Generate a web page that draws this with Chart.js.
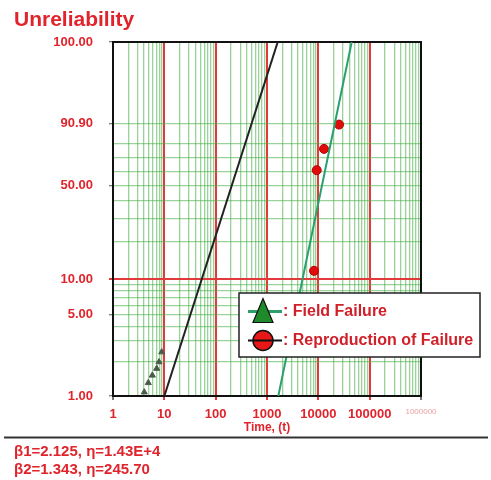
<!DOCTYPE html>
<html><head><meta charset="utf-8">
<script src="https://cdn.jsdelivr.net/npm/chart.js@4.4.1/dist/chart.umd.min.js"></script>
<style>html,body{margin:0;padding:0;background:#fff;}canvas{display:block;}</style>
</head><body>
<canvas id="c" width="491" height="480"></canvas>
<script>
// ---- text ----
const chartTitle = 'Unreliability';
const xAxisTitle = 'Time, (t)';
const paramLines = ['\u03b21=2.125, \u03b7=1.43E+4', '\u03b22=1.343, \u03b7=245.70'];
const legendLabels = [': Field Failure', ': Reproduction of Failure'];

// ---- axes ----
const xMin = 1, xMax = 1000000;
const xGridValues = [1,2,3,4,5,6,7,8,9,
  10,20,30,40,50,60,70,80,90,
  100,200,300,400,500,600,700,800,900,
  1000,2000,3000,4000,5000,6000,7000,8000,9000,
  10000,20000,30000,40000,50000,60000,70000,80000,90000,
  100000,200000,300000,400000,500000,600000,700000,800000,900000,
  1000000];
const xLabelValues = [1,10,100,1000,10000,100000,1000000];
const xTickLabels = ['1','10','100','1000','10000','100000','1000000'];

const yMin = 1, yMax = 99.99958;
const yGridValues = [1,2,3,4,5,6,7,8,9,10,20,30,40,50,60,70,80,90.9,99.99958];
const yLabelValues = [1,5,10,50,90.9,99.99958];
const yTickLabels = ['1.00','5.00','10.00','50.00','90.90','100.00'];

// ---- data (time, unreliability %) ----
const fieldTime  = [4.07, 4.87, 5.83, 7.10, 7.87, 8.89];
const fieldUnrel = [1.08, 1.30, 1.51, 1.73, 1.97, 2.40];
const reproTime  = [8240, 9300, 12900, 25300];
const reproUnrel = [11.7, 61.0, 76.4, 90.5];
const fit1Time  = [1660, 44700];      // beta1 = 2.125, eta = 1.43E+4 (green)
const fit1Unrel = [1, 99.99958];
const fit2Time  = [10, 1618];         // beta2 = 1.343, eta = 245.70 (black)
const fit2Unrel = [1, 99.99958];

// ---- colours ----
const RED = '#e0242c';
const GRID_GREEN = 'rgba(70,175,70,0.55)';
const GRID_RED = '#e23a3a';
const FONT = "'Liberation Sans', Arial, sans-serif";

// Weibull probability scale: linear in ln(-ln(1-F))
const wt = p => Math.log(-Math.log(1 - p / 100));
class WeibullScale extends Chart.Scale {
  static id = 'weibull';
  static defaults = {};
  determineDataLimits() { this.min = this.options.min; this.max = this.options.max; }
  buildTicks() { return yGridValues.map(v => ({ value: v })); }
  configure() { super.configure(); this._tMin = wt(this.min); this._tMax = wt(this.max); }
  getLabelForValue(v) { return v.toFixed(2); }
  getPixelForValue(v) { return this.getPixelForDecimal((wt(v) - this._tMin) / (this._tMax - this._tMin)); }
  getValueForPixel(px) {
    const t = this._tMin + this.getDecimalForPixel(px) * (this._tMax - this._tMin);
    return 100 * (1 - Math.exp(-Math.exp(t)));
  }
}
Chart.register(WeibullScale);

const pts = (xs, ys) => xs.map((x, i) => ({ x: x, y: ys[i] }));

const framePlugin = {
  id: 'frame',
  beforeDatasetsDraw(chart) {
    const { ctx, chartArea: a } = chart;
    ctx.save();
    ctx.strokeStyle = '#111'; ctx.lineWidth = 2;
    ctx.strokeRect(a.left, a.top, a.right - a.left, a.bottom - a.top);
    ctx.restore();
  }
};

const legendPlugin = {
  id: 'boxLegend',
  afterDraw(chart) {
    const { ctx, chartArea: a } = chart;
    ctx.save();
    // separator line above parameter text
    ctx.strokeStyle = '#333'; ctx.lineWidth = 2;
    ctx.beginPath(); ctx.moveTo(4, a.bottom + 41.5); ctx.lineTo(488, a.bottom + 41.5); ctx.stroke();

    const bx = a.left + 126, by = a.top + 251, bw = 241, bh = 64;
    ctx.fillStyle = '#fff'; ctx.fillRect(bx, by, bw, bh);
    ctx.strokeStyle = '#222'; ctx.lineWidth = 1.5; ctx.strokeRect(bx, by, bw, bh);
    const mx = bx + 24;
    // entry 1
    const y1 = by + 18.5;
    ctx.strokeStyle = '#2e9e6e'; ctx.lineWidth = 3;
    ctx.beginPath(); ctx.moveTo(bx + 9, y1); ctx.lineTo(bx + 43, y1); ctx.stroke();
    ctx.beginPath(); ctx.moveTo(mx, y1 - 13); ctx.lineTo(mx - 10, y1 + 11); ctx.lineTo(mx + 10, y1 + 11); ctx.closePath();
    ctx.fillStyle = '#1f8a2a'; ctx.fill(); ctx.strokeStyle = '#111'; ctx.lineWidth = 1.2; ctx.stroke();
    // entry 2
    const y2 = by + 47.5;
    ctx.beginPath(); ctx.arc(mx, y2, 10, 0, Math.PI * 2);
    ctx.fillStyle = '#e81818'; ctx.fill(); ctx.strokeStyle = '#111'; ctx.lineWidth = 1.5; ctx.stroke();
    ctx.strokeStyle = '#111'; ctx.lineWidth = 2;
    ctx.beginPath(); ctx.moveTo(bx + 9, y2); ctx.lineTo(bx + 43, y2); ctx.stroke();
    ctx.fillStyle = '#d0202a'; ctx.font = 'bold 16px ' + FONT; ctx.textBaseline = 'middle'; ctx.textAlign = 'left';
    ctx.fillText(legendLabels[0], bx + 44, y1);
    ctx.fillText(legendLabels[1], bx + 44, y2);
    ctx.restore();
  }
};

new Chart(document.getElementById('c'), {
  type: 'scatter',
  data: {
    datasets: [
      { label: 'beta2 fit', data: pts(fit2Time, fit2Unrel), showLine: true, borderColor: '#222', borderWidth: 2, pointRadius: 0 },
      { label: 'beta1 fit', data: pts(fit1Time, fit1Unrel), showLine: true, borderColor: '#2aa070', borderWidth: 2, pointRadius: 0 },
      { label: 'Field Failure', data: pts(fieldTime, fieldUnrel), pointStyle: 'triangle', pointRadius: 3.5,
        backgroundColor: '#4b5a4b', borderColor: '#4b5a4b', borderWidth: 1 },
      { label: 'Reproduction of Failure', data: pts(reproTime, reproUnrel), pointStyle: 'circle', pointRadius: 4.5,
        backgroundColor: '#e00c0c', borderColor: '#b00000', borderWidth: 1 }
    ]
  },
  options: {
    responsive: false, animation: false, devicePixelRatio: 1,
    layout: { padding: { left: 14, right: 70, top: 0, bottom: 0 } },
    plugins: {
      legend: { display: false },
      tooltip: { enabled: false },
      title: { display: true, text: chartTitle, align: 'start', color: RED,
        font: { family: FONT, size: 21, weight: 'bold', lineHeight: 1.143 }, padding: { top: 8, bottom: 10 } },
      subtitle: { display: true, text: paramLines, position: 'bottom', align: 'start', color: RED,
        font: { family: FONT, size: 15, weight: 'bold', lineHeight: 1.1667 }, padding: { top: 6, bottom: 1.75 } }
    },
    scales: {
      x: {
        type: 'logarithmic', min: xMin, max: xMax,
        afterBuildTicks: s => { s.ticks = xGridValues.map(v => ({ value: v })); },
        afterFit: s => { s.height = 41.25; },
        border: { display: false },
        grid: {
          tickLength: 4,
          color: c => { const v = c.tick && c.tick.value; if (v === xMin || v === xMax) return 'rgba(0,0,0,0)'; return xLabelValues.includes(v) ? GRID_RED : GRID_GREEN; },
          lineWidth: c => (c.tick && xLabelValues.includes(c.tick.value)) ? 2 : 1.3,
          tickColor: c => { const v = c.tick && c.tick.value; if (!xLabelValues.includes(v)) return 'rgba(0,0,0,0)'; return (v === xMin || v === xMax) ? '#777' : GRID_RED; }
        },
        ticks: {
          autoSkip: false, maxRotation: 0, padding: 7,
          callback: v => { const i = xLabelValues.indexOf(v); return i >= 0 ? xTickLabels[i] : ''; },
          color: c => (c.tick && c.tick.value === xMax) ? '#e8a0a4' : RED,
          font: c => (c.tick && c.tick.value === xMax) ? { family: FONT, size: 8, weight: 'normal' } : { family: FONT, size: 13, weight: 'bold' }
        },
        title: { display: true, text: xAxisTitle, color: RED, font: { family: FONT, size: 12, weight: 'bold' }, padding: { top: 0, bottom: 2 } }
      },
      y: {
        type: 'weibull', min: yMin, max: yMax, position: 'left',
        afterFit: s => { s.width = 99; },
        border: { display: false },
        grid: {
          tickLength: 4,
          color: c => { const v = c.tick && c.tick.value; if (v === yMin || v === yMax) return 'rgba(0,0,0,0)'; return v === 10 ? GRID_RED : GRID_GREEN; },
          lineWidth: c => (c.tick && c.tick.value === 10) ? 2 : 1.3,
          tickColor: c => { const v = c.tick && c.tick.value; if (!yLabelValues.includes(v)) return 'rgba(0,0,0,0)'; return v === 10 ? GRID_RED : '#777'; }
        },
        ticks: {
          autoSkip: false, padding: 16, color: RED,
          font: { family: FONT, size: 13, weight: 'bold' },
          callback: v => { const i = yLabelValues.indexOf(v); return i >= 0 ? yTickLabels[i] : ''; }
        }
      }
    }
  },
  plugins: [framePlugin, legendPlugin]
});
</script>
</body></html>
